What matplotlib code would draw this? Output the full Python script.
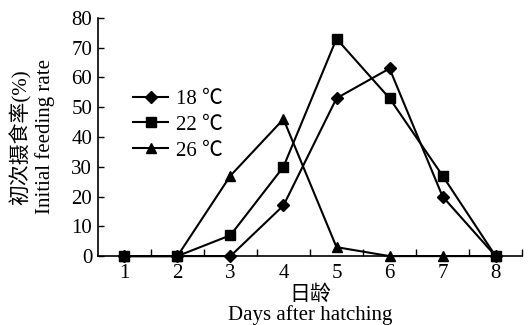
import matplotlib
matplotlib.use("Agg")
import matplotlib.pyplot as plt
from matplotlib.ticker import FixedLocator

plt.rcParams['font.family'] = ['Liberation Serif', 'Noto Sans CJK SC']

days = [1, 2, 3, 4, 5, 6, 7, 8]
rate_18 = [0, 0, 0, 17, 53, 63, 20, 0]
rate_22 = [0, 0, 7, 30, 73, 53, 27, 0]
rate_26 = [0, 0, 27, 46, 3, 0, 0, 0]

fig = plt.figure(figsize=(5.29, 3.25), dpi=100)
ax = fig.add_axes([0.185, 0.212, 0.802, 0.733])

ax.plot(days, rate_18, color='black', lw=1.5, marker='D', ms=6, label='18 ℃', clip_on=False, zorder=3)
ax.plot(days, rate_22, color='black', lw=1.5, marker='s', ms=7.5, label='22 ℃', clip_on=False, zorder=3)
ax.plot(days, rate_26, color='black', lw=1.5, marker='^', ms=7.5, label='26 ℃', clip_on=False, zorder=3)

ax.set_xlim(0.5, 8.5)
ax.set_ylim(0, 80)
ax.set_yticks(range(0, 81, 10))
ax.set_xticks(days)
ax.xaxis.set_minor_locator(FixedLocator([1.5, 2.5, 3.5, 4.5, 5.5, 6.5, 7.5, 8.5]))

for s in ['top', 'right']:
    ax.spines[s].set_visible(False)
for s in ['left', 'bottom']:
    ax.spines[s].set_linewidth(1.2)

ax.tick_params(axis='y', direction='in', length=4, width=1, labelsize=15, pad=4)
ax.tick_params(axis='x', which='major', length=0, labelsize=15, pad=6)
ax.tick_params(axis='x', which='minor', direction='in', length=5, width=1)

ax.set_xlabel('日龄\nDays after hatching', fontsize=15, linespacing=1.0, labelpad=1)
ax.set_ylabel('初次摄食率(%)\nInitial feeding rate', fontsize=15, linespacing=1.25)
ax.yaxis.set_label_coords(-0.101, 0.5)

leg = ax.legend(loc='upper left', bbox_to_anchor=(0.083, 0.70), frameon=False,
                fontsize=15, handlelength=1.7, handletextpad=0.35, labelspacing=0.3,
                borderpad=0, borderaxespad=0)

fig.savefig('out.png', dpi=100)
